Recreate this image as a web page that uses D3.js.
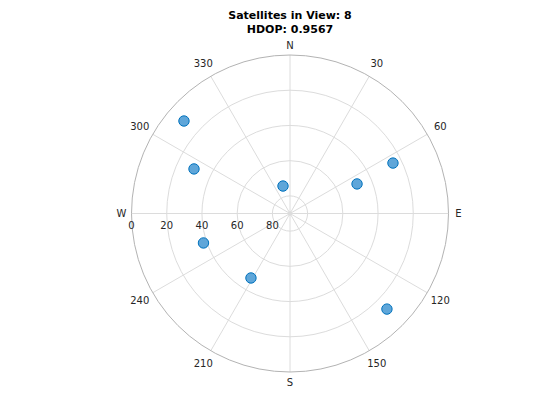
<!DOCTYPE html>
<html>
<head>
<meta charset="utf-8">
<script src="https://cdn.jsdelivr.net/npm/d3@7"></script>
<style>
  body { margin: 0; background: #fff; }
  text { font-family: "DejaVu Sans", sans-serif; fill: #262626; }
</style>
</head>
<body>
<div id="chart"></div>
<script>
// satellite positions (degrees)
var azimuth   = [311.1, 294.9, 345.7, 66.2, 63.9, 251.2, 211.2, 134.6];
var elevation = [10.1, 29.9, 73.9, 48.4, 24.9, 38.1, 47.2, 12.7];

var azTicks = [0, 30, 60, 90, 120, 150, 180, 210, 240, 270, 300, 330];
var azLabels = ["N", "30", "60", "E", "120", "150", "S", "210", "240", "W", "300", "330"];
var elTicks = [0, 20, 40, 60, 80];

var titleLines = ["Satellites in View: 8", "HDOP: 0.9567"];

var width = 560, height = 420;
var cx = 290, cy = 213.5, R = 158.5;

var svg = d3.select("#chart").append("svg")
    .attr("width", width)
    .attr("height", height);

var g = svg.append("g").attr("transform", "translate(" + cx + "," + cy + ")");

// radius from elevation, angle from azimuth (clockwise from north)
var r = d3.scaleLinear().domain([90, 0]).range([0, R]);
var a = d3.scaleLinear().domain([0, 360]).range([0, 2 * Math.PI]);

function px(az, el) { return r(el) * Math.sin(a(az)); }
function py(az, el) { return -r(el) * Math.cos(a(az)); }

// spokes
g.selectAll("line.spoke")
    .data(azTicks)
    .enter().append("line")
        .attr("class", "spoke")
        .attr("x1", 0).attr("y1", 0)
        .attr("x2", function(d) { return px(d, 0); })
        .attr("y2", function(d) { return py(d, 0); })
        .attr("stroke", "#dcdcdc")
        .attr("stroke-width", 1);

// elevation rings
g.selectAll("circle.ring")
    .data(elTicks.slice(1))
    .enter().append("circle")
        .attr("class", "ring")
        .attr("r", function(d) { return r(d); })
        .attr("fill", "none")
        .attr("stroke", "#dcdcdc")
        .attr("stroke-width", 1);

g.append("circle")
    .attr("r", 1.8)
    .attr("fill", "none")
    .attr("stroke", "#dcdcdc");

// outer edge
g.append("circle")
    .attr("r", r(0))
    .attr("fill", "none")
    .attr("stroke", "#b3b3b3")
    .attr("stroke-width", 1);

// azimuth labels
g.selectAll("text.az")
    .data(azTicks)
    .enter().append("text")
        .attr("class", "az")
        .attr("x", function(d, i) { return (R + (d % 90 == 0 ? 10 : 15)) * Math.sin(a(d)); })
        .attr("y", function(d, i) { return -(R + (d % 90 == 0 ? 10 : 15)) * Math.cos(a(d)); })
        .attr("dy", "0.35em")
        .attr("text-anchor", "middle")
        .attr("font-size", 10)
        .text(function(d, i) { return azLabels[i]; });

// elevation labels along the west spoke
g.selectAll("text.el")
    .data(elTicks)
    .enter().append("text")
        .attr("class", "el")
        .attr("x", function(d) { return px(270, d); })
        .attr("y", 11.5)
        .attr("dy", "0.35em")
        .attr("text-anchor", "middle")
        .attr("font-size", 10)
        .text(function(d) { return d; });

// satellites
g.selectAll("circle.sat")
    .data(azimuth)
    .enter().append("circle")
        .attr("class", "sat")
        .attr("cx", function(d, i) { return px(d, elevation[i]); })
        .attr("cy", function(d, i) { return py(d, elevation[i]); })
        .attr("r", 5.2)
        .attr("fill", "#5fa6d9")
        .attr("stroke", "#0072bd")
        .attr("stroke-width", 1);

// title
svg.selectAll("text.title")
    .data(titleLines)
    .enter().append("text")
        .attr("class", "title")
        .attr("x", cx)
        .attr("y", function(d, i) { return 19 + i * 13.5; })
        .attr("text-anchor", "middle")
        .attr("font-size", 11)
        .attr("font-weight", "bold")
        .style("fill", "#000")
        .text(function(d) { return d; });
</script>
</body>
</html>
